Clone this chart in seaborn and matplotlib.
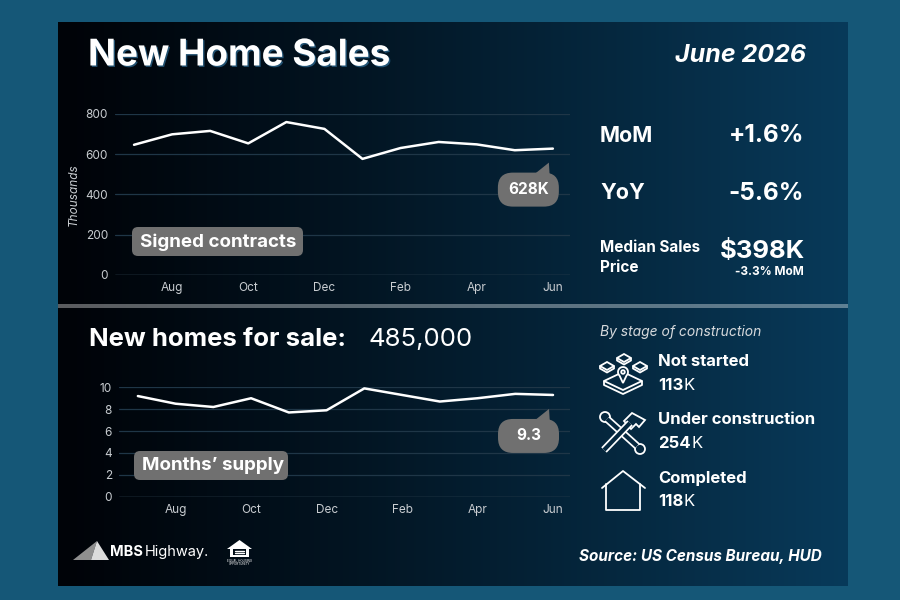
import numpy as np
import pandas as pd
import seaborn as sns
import matplotlib.pyplot as plt
import matplotlib.patheffects as pe
from matplotlib.patches import FancyBboxPatch, Polygon, Circle

# data
months = ['Jul', 'Aug', 'Sep', 'Oct', 'Nov', 'Dec', 'Jan', 'Feb', 'Mar', 'Apr', 'May', 'Jun']
signed_contracts = [647, 699, 716, 654, 760, 726, 577, 631, 661, 649, 620, 628]
months_supply = [9.2, 8.5, 8.2, 9.0, 7.7, 7.9, 9.9, 9.3, 8.7, 9.0, 9.4, 9.3]
top_yticks = [0, 200, 400, 600, 800]
bottom_yticks = [0, 2, 4, 6, 8, 10]
stages = ['Not started', 'Under construction', 'Completed']
stage_counts = ['113', '254', '118']

sns.set_theme(style='dark')
plt.rcParams['font.family'] = ['Inter', 'DejaVu Sans']

OUTER = '#155777'
WHITE = 'white'
TICK = '#c9cdd1'
GRID = '#1f3647'
BUBBLE = '#707070'

fig = plt.figure(figsize=(9, 6), dpi=100, facecolor=OUTER)

# background panel with horizontal gradient
bg = fig.add_axes([0, 0, 1, 1], zorder=0)
bg.set_xlim(0, 900)
bg.set_ylim(600, 0)
bg.axis('off')
t = np.linspace(0, 1, 256) ** 1.15
c0 = np.array([0, 3, 8]) / 255
c1 = np.array([8, 58, 90]) / 255
grad = (c0[None, :] * (1 - t[:, None]) + c1[None, :] * t[:, None])[None, :, :]
bg.imshow(grad, extent=(58, 848, 586, 22), aspect='auto', interpolation='bicubic')

def bg_color(x):
    f = ((x - 58) / 790) ** 1.15
    return tuple(c0 * (1 - f) + c1 * f)

# divider
dt = np.linspace(0, 1, 256)
d0 = np.array([90, 92, 95]) / 255
d1 = np.array([95, 128, 148]) / 255
dgrad = (d0[None, :] * (1 - dt[:, None]) + d1[None, :] * dt[:, None])[None, :, :]
bg.imshow(dgrad, extent=(58, 848, 308, 304), aspect='auto')


def style_chart(ax, yticks, ylim):
    ax.set_facecolor('none')
    ax.set_ylim(*ylim)
    ax.set_xlim(-0.5, 11.45)
    ax.set_yticks(yticks)
    ax.set_xticks(range(1, 12, 2))
    ax.set_xticklabels(months[1::2])
    ax.grid(axis='y', color=GRID, lw=0.9)
    ax.grid(axis='x', visible=False)
    for s in ax.spines.values():
        s.set_visible(False)
    ax.tick_params(colors=TICK, labelsize=8.5, length=0, pad=5)
    ax.set_xlabel('')
    ax.set_ylabel('')
    ax.axhline(ylim[0], color='#3a4a56', lw=1.0, zorder=0)


# top chart
df_top = pd.DataFrame({'month': months, 'value': signed_contracts})
ax1 = fig.add_axes([115 / 900, 1 - 275 / 600, 455 / 900, 161 / 600], zorder=1)
sns.lineplot(data=df_top, x='month', y='value', ax=ax1, color=WHITE, lw=1.8, sort=False)
style_chart(ax1, top_yticks, (0, 800))
ax1.set_ylabel('Thousands', color=TICK, fontsize=8.5, style='italic', labelpad=4)

# bottom chart
df_bot = pd.DataFrame({'month': months, 'value': months_supply})
ax2 = fig.add_axes([119 / 900, 1 - 496.7 / 600, 451 / 900, 109.4 / 600], zorder=1)
sns.lineplot(data=df_bot, x='month', y='value', ax=ax2, color=WHITE, lw=1.8, sort=False)
style_chart(ax2, bottom_yticks, (0, 10))

# overlay for text, callouts and icons (pixel coordinates, y down)
ov = fig.add_axes([0, 0, 1, 1], zorder=3)
ov.set_facecolor('none')
ov.set_xlim(0, 900)
ov.set_ylim(600, 0)
ov.axis('off')


def to_px(ax, x, y):
    dx, dy = ax.transData.transform((x, y))
    return dx, 600 - dy


def callout(ax, idx, values, label):
    px, py = to_px(ax, idx, values[idx])
    x0, y0 = px - 55, py + 24
    ov.add_patch(FancyBboxPatch((x0, y0), 61, 34, boxstyle='round,pad=0,rounding_size=15',
                                fc=BUBBLE, ec='none', zorder=4))
    ov.add_patch(Polygon([(px - 19, py + 26), (px - 4, py + 14), (px - 3, py + 30)],
                         closed=True, fc=BUBBLE, ec='none', zorder=4))
    ov.text(x0 + 30.5, y0 + 17, label, color=WHITE, fontsize=11, fontweight='bold',
            ha='center', va='center', zorder=5)


def tag(x0, y0, w, h, label):
    ov.add_patch(FancyBboxPatch((x0, y0), w, h, boxstyle='round,pad=0,rounding_size=6',
                                fc=BUBBLE, ec='none', zorder=4))
    ov.text(x0 + 8, y0 + h / 2 + 0.5, label, color=WHITE, fontsize=13.5, fontweight='bold',
            ha='left', va='center', zorder=5)


callout(ax1, 11, signed_contracts, f'{signed_contracts[-1]}K')
callout(ax2, 11, months_supply, f'{months_supply[-1]}')
tag(132, 227, 171, 29, 'Signed contracts')
tag(134, 451, 154, 29, 'Months\u2019 supply')

# titles
ov.text(88, 56, 'New Home Sales', color=WHITE, fontsize=26.5, fontweight='bold', va='center',
        path_effects=[pe.withSimplePatchShadow(offset=(1.0, -1.0), shadow_rgbFace='#2f6f99', alpha=0.7)])
ov.text(806, 56, 'June 2026', color=WHITE, fontsize=18, fontweight='bold', style='italic',
        ha='right', va='center')

# stats block
ov.text(600, 136, 'MoM', color=WHITE, fontsize=15.5, fontweight='bold', va='center')
ov.text(804, 136, '+1.6%', color=WHITE, fontsize=17.5, fontweight='bold', ha='right', va='center')
ov.text(600, 193, 'YoY', color=WHITE, fontsize=15.5, fontweight='bold', va='center')
ov.text(804, 193, '-5.6%', color=WHITE, fontsize=17.5, fontweight='bold', ha='right', va='center')
ov.text(600, 247, 'Median Sales', color=WHITE, fontsize=11, fontweight='bold', va='center')
ov.text(600, 268, 'Price', color=WHITE, fontsize=11, fontweight='bold', va='center')
ov.text(805, 252, '$398K', color=WHITE, fontsize=18.5, fontweight='bold', ha='right', va='center')
ov.text(804, 272, '-3.3% MoM', color=WHITE, fontsize=8.5, fontweight='bold', ha='right', va='center')

# bottom header
ov.text(89, 339, 'New homes for sale:', color=WHITE, fontsize=18.5, fontweight='bold', va='center')
ov.text(369, 339, '485,000', color=WHITE, fontsize=18.5, va='center')
ov.text(600, 332, 'By stage of construction', color='#d6d9dc', fontsize=10, style='italic', va='center')

renderer = fig.canvas.get_renderer()
for i, (name, cnt) in enumerate(zip(stages, stage_counts)):
    y = 362 + i * 58
    ov.text(658, y, name, color=WHITE, fontsize=12, fontweight='bold', va='center')
    tb = ov.text(658, y + 23, cnt, color=WHITE, fontsize=12, fontweight='bold', va='center')
    bb = tb.get_window_extent(renderer)
    ov.text(658 + bb.width + 0.5, y + 23, 'K', color=WHITE, fontsize=12, va='center')

# icons
lw_i = 1.3
# not started: tiles with a pin
def diamond(cx, cy, hw, hh):
    return [(cx - hw, cy), (cx, cy - hh), (cx + hw, cy), (cx, cy + hh)]

for cx, cy in [(624, 358), (607, 366), (640, 366)]:
    ov.add_patch(Polygon(diamond(cx, cy, 7, 4), closed=True, fc='none', ec=WHITE, lw=lw_i))
    ov.plot([cx - 7, cx - 7, cx, cx + 7, cx + 7], [cy, cy + 2.5, cy + 6.5, cy + 2.5, cy], color=WHITE, lw=lw_i)
ov.add_patch(Polygon(diamond(623, 381, 19, 9), closed=True, fc=bg_color(623), ec=WHITE, lw=lw_i))
ov.plot([604, 604, 623, 642, 642], [381, 385, 394, 385, 381], color=WHITE, lw=lw_i)
pin_t = np.linspace(np.pi * 1.25, np.pi * -0.25, 40)
pin_x = list(623 + 5 * np.cos(pin_t)) + [623]
pin_y = list(372 - 5 * np.sin(pin_t)) + [383]
ov.add_patch(Polygon(list(zip(pin_x, pin_y)), closed=True, fc=bg_color(623), ec=WHITE, lw=lw_i))
ov.add_patch(Circle((623, 372), 1.8, fc='none', ec=WHITE, lw=lw_i))

# under construction: wrench and hammer
outline = [pe.Stroke(linewidth=5.5, foreground=WHITE), pe.Normal()]
ov.plot([607, 637], [419, 446], color=bg_color(620), lw=3, solid_capstyle='butt', path_effects=outline)
for cx, cy in [(605, 417), (640, 449)]:
    ov.add_patch(Circle((cx, cy), 5, fc=bg_color(620), ec=WHITE, lw=lw_i))
ov.plot([604, 630], [450, 423], color=bg_color(620), lw=3, solid_capstyle='butt', path_effects=outline)
ov.add_patch(Polygon([(624, 421), (632, 413), (645, 420), (639, 427), (636, 424), (631, 429)],
                     closed=True, fc=bg_color(630), ec=WHITE, lw=lw_i))

# completed: house outline
ov.plot([602, 623, 645], [488, 471, 488], color=WHITE, lw=lw_i)
ov.plot([606, 606, 640, 640], [484, 510, 510, 484], color=WHITE, lw=lw_i)

# footer logos
ov.add_patch(Polygon([(73, 560), (97, 541), (91, 560)], closed=True, fc='#8f8f8f', ec='none'))
ov.add_patch(Polygon([(91, 560), (97, 541), (109, 560)], closed=True, fc='#dcdcdc', ec='none'))
mb = ov.text(110, 552, 'MBS', color=WHITE, fontsize=10.5, fontweight='bold', va='center')
mbb = mb.get_window_extent(renderer)
ov.text(110 + mbb.width + 1.5, 552, 'Highway.', color=WHITE, fontsize=10.5, va='center')
ov.add_patch(Polygon([(227, 549), (239.5, 540), (252, 549), (249, 549), (249, 557), (230, 557), (230, 549)],
                     closed=True, fc=WHITE, ec='none'))
ov.add_patch(Polygon([(233, 549), (246, 549), (246, 555), (233, 555)], closed=True, fc=bg_color(240), ec='none'))
ov.plot([235, 244], [551, 551], color=WHITE, lw=1.0)
ov.plot([235, 244], [553.3, 553.3], color=WHITE, lw=1.0)
ov.text(239.5, 561, 'EQUAL HOUSING', color=WHITE, fontsize=2.2, ha='center', va='center')
ov.text(239.5, 564, 'OPPORTUNITY', color=WHITE, fontsize=2.2, ha='center', va='center')

ov.text(822, 556, 'Source: US Census Bureau, HUD', color=WHITE, fontsize=11, fontweight='bold',
        style='italic', ha='right', va='center')

fig.savefig('out.png', dpi=100, facecolor=OUTER)
